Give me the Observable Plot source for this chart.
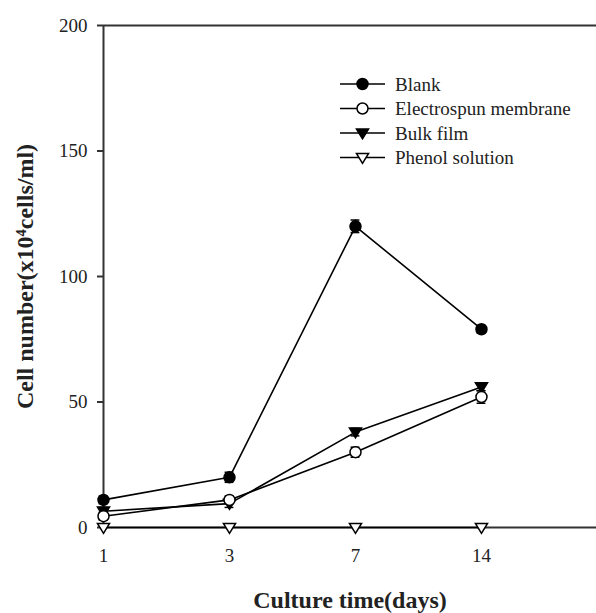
<!DOCTYPE html>
<html>
<head>
<meta charset="utf-8">
<script src="https://cdn.jsdelivr.net/npm/d3@7"></script>
<script src="https://cdn.jsdelivr.net/npm/@observablehq/plot@0.6"></script>
<style>
  html, body { margin: 0; padding: 0; background: #fff; }
  #wrap { position: relative; width: 596px; height: 613px; }
  #legend { position: absolute; left: 0; top: 0; }
  #legend text { font-family: "Liberation Serif", "Times New Roman", serif; }
</style>
</head>
<body>
<div id="wrap"></div>
<script>
const days = ["1", "3", "7", "14"];
const seriesNames = ["Blank", "Electrospun membrane", "Bulk film", "Phenol solution"];
const blank = [11, 20, 120, 79];
const blankErr = [1.5, 2, 2.5, 1.5];
const electrospun = [4.5, 11, 30, 52];
const electrospunErr = [1.5, 1.5, 2, 2.5];
const bulk = [6.5, 9.5, 38, 56];
const bulkErr = [1.5, 1.5, 1.5, 1.5];
const phenol = [0, 0, 0, 0];
const phenolErr = [0, 0, 0, 0];
const yTicks = [0, 50, 100, 150, 200];
const xTitle = "Culture time(days)";
const yTitle = "Cell number(x10\u2074cells/ml)";

const triangleDown = {
  draw(ctx, size) {
    const s = Math.sqrt(size / Math.PI);
    ctx.moveTo(-1.1 * s, -0.75 * s);
    ctx.lineTo(1.1 * s, -0.75 * s);
    ctx.lineTo(0, 1.05 * s);
    ctx.closePath();
  }
};

const styles = {
  "Blank": {symbol: "circle", fill: "black"},
  "Electrospun membrane": {symbol: "circle", fill: "white"},
  "Bulk film": {symbol: triangleDown, fill: "black"},
  "Phenol solution": {symbol: triangleDown, fill: "white"}
};

const values = [blank, electrospun, bulk, phenol];
const errs = [blankErr, electrospunErr, bulkErr, phenolErr];
const rows = [];
seriesNames.forEach((name, k) => {
  days.forEach((d, i) => {
    rows.push({series: name, i, day: d, value: values[k][i], err: errs[k][i]});
  });
});

const marks = [
  Plot.ruleY([0, 200], {stroke: "#333", strokeWidth: 2}),
  Plot.ruleX([0], {stroke: "#333", strokeWidth: 2}),
  Plot.axisY({ticks: yTicks, tickSize: 6, tickPadding: 10, label: null, stroke: "#333", strokeWidth: 2, fill: "#222"}),
  Plot.axisX({ticks: [0, 1, 2, 3], tickFormat: i => days[i], tickSize: 0, tickPadding: 21, label: null, fill: "#222"}),
  Plot.text([xTitle], {text: d => d, frameAnchor: "bottom", dy: 73, lineAnchor: "middle", fontWeight: "bold", fontSize: 24, fill: "#222"}),
  Plot.text([yTitle], {text: d => d, frameAnchor: "left", dx: -78, rotate: -90, lineAnchor: "middle", textAnchor: "middle", fontWeight: "bold", fontSize: 24, fill: "#222"})
];

for (const name of [...seriesNames].reverse()) {
  const data = rows.filter(r => r.series === name);
  marks.push(Plot.line(data, {x: "i", y: "value", stroke: "black", strokeWidth: 1.6}));
}
for (const name of [...seriesNames].reverse()) {
  const data = rows.filter(r => r.series === name && r.err > 0);
  marks.push(Plot.ruleX(data, {x: "i", y1: d => d.value - d.err, y2: d => d.value + d.err, stroke: "black", strokeWidth: 1.5}));
  marks.push(Plot.ruleY(data, {y: d => d.value + d.err, x1: d => d.i - 0.035, x2: d => d.i + 0.035, stroke: "black", strokeWidth: 1.5}));
  marks.push(Plot.ruleY(data, {y: d => d.value - d.err, x1: d => d.i - 0.035, x2: d => d.i + 0.035, stroke: "black", strokeWidth: 1.5}));
}
for (const name of [...seriesNames].reverse()) {
  const data = rows.filter(r => r.series === name);
  const st = styles[name];
  marks.push(Plot.dot(data, {x: "i", y: "value", r: 5.5, symbol: () => st.symbol, fill: st.fill, stroke: "black", strokeWidth: 1.5}));
}

const chart = Plot.plot({
  width: 596,
  height: 613,
  marginLeft: 103,
  marginRight: 0,
  marginTop: 25,
  marginBottom: 86,
  style: {fontFamily: "'Liberation Serif', 'Times New Roman', serif", fontSize: "19px", background: "white", overflow: "visible"},
  x: {domain: [0, 3.913], axis: null},
  y: {domain: [0, 200], axis: null},
  symbol: {type: "identity"},
  marks
});
document.getElementById("wrap").appendChild(chart);

// Legend
const lg = d3.select("#wrap").append("svg")
  .attr("id", "legend")
  .attr("width", 596).attr("height", 613);
const rowY = [84, 108.5, 133, 157.5];
seriesNames.forEach((name, k) => {
  const g = lg.append("g").attr("transform", `translate(0,${rowY[k]})`);
  g.append("line").attr("x1", 340).attr("x2", 385).attr("y1", 0).attr("y2", 0)
    .attr("stroke", "black").attr("stroke-width", 1.6);
  const st = styles[name];
  const sym = d3.symbol(st.symbol === "circle" ? d3.symbolCircle : st.symbol, 5.5 * 5.5 * Math.PI);
  g.append("path").attr("d", sym()).attr("transform", "translate(362.5,0)")
    .attr("fill", st.fill).attr("stroke", "black").attr("stroke-width", 1.5);
  g.append("text").attr("x", 395).attr("y", 0).attr("dy", "0.35em")
    .attr("font-family", "Liberation Serif, Times New Roman, serif")
    .attr("font-size", 19).attr("fill", "#222").text(name);
});
</script>
</body>
</html>
